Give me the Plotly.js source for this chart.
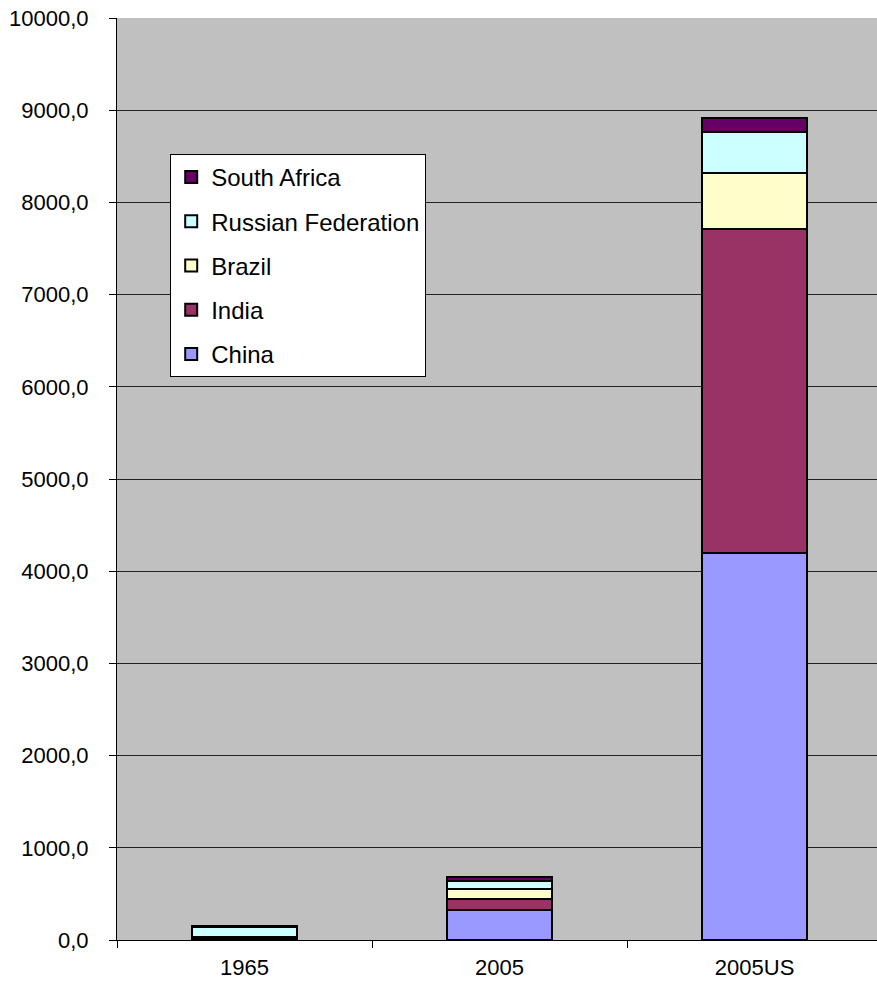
<!DOCTYPE html>
<html><head><meta charset="utf-8">
<script src="https://cdn.plot.ly/plotly-3.0.1.min.js"></script>
<style>html,body{margin:0;padding:0;background:#fff}#chart{width:877px;height:985px}</style>
</head><body><div id="chart"></div>
<script>
const categories = ["1965", "2005", "2005US"];
const china = [12, 325, 4200];
const india = [10, 120, 3510];
const brazil = [15, 108, 605];
const russia = [105, 87, 445];
const southAfrica = [10, 40, 155];

const seriesNames = ["China", "India", "Brazil", "Russian Federation", "South Africa"];
const seriesValues = [china, india, brazil, russia, southAfrica];
const seriesColors = ["#9999ff", "#993366", "#ffffcc", "#ccffff", "#660066"];

const traces = seriesNames.map((n, i) => ({
  type: "bar", name: n, x: categories, y: seriesValues[i],
  legendgroup: "g" + i,
  legendrank: 100 - i,
  marker: {color: seriesColors[i], line: {color: "#000", width: 2}},
  hoverinfo: "skip"
}));

const layout = {
  width: 877, height: 985,
  margin: {l: 117, r: 0, t: 18, b: 45},
  paper_bgcolor: "#fff", plot_bgcolor: "#c0c0c0",
  barmode: "stack", bargap: 0.59,
  separators: ", ",
  font: {family: "Liberation Sans, Arial, sans-serif", size: 22, color: "#000"},
  xaxis: {
    type: "category", range: [-0.5, 2.48],
    showline: true, linecolor: "#000", linewidth: 1,
    ticks: "outside", tickson: "boundaries", ticklen: 7, tickcolor: "#000",
    ticklabelstandoff: 8,
    showgrid: false, zeroline: false, fixedrange: true,
    tickfont: {size: 22}
  },
  yaxis: {
    range: [0, 10000], dtick: 1000, tickformat: ".1f",
    showline: true, linecolor: "#000", linewidth: 1,
    ticks: "outside", ticklen: 7, tickcolor: "#000",
    ticklabelstandoff: 16,
    showgrid: true, gridcolor: "#222", gridwidth: 1,
    zeroline: false, fixedrange: true,
    tickfont: {size: 22}
  },
  legend: {
    x: 0.07, y: 0.8525, xanchor: "left", yanchor: "top",
    bgcolor: "#fff", bordercolor: "#000", borderwidth: 1,
    traceorder: "grouped", tracegroupgap: 10,
    itemwidth: 30,
    font: {size: 24}
  },
  showlegend: true
};

Plotly.newPlot("chart", traces, layout, {displayModeBar: false, staticPlot: true});
</script></body></html>
